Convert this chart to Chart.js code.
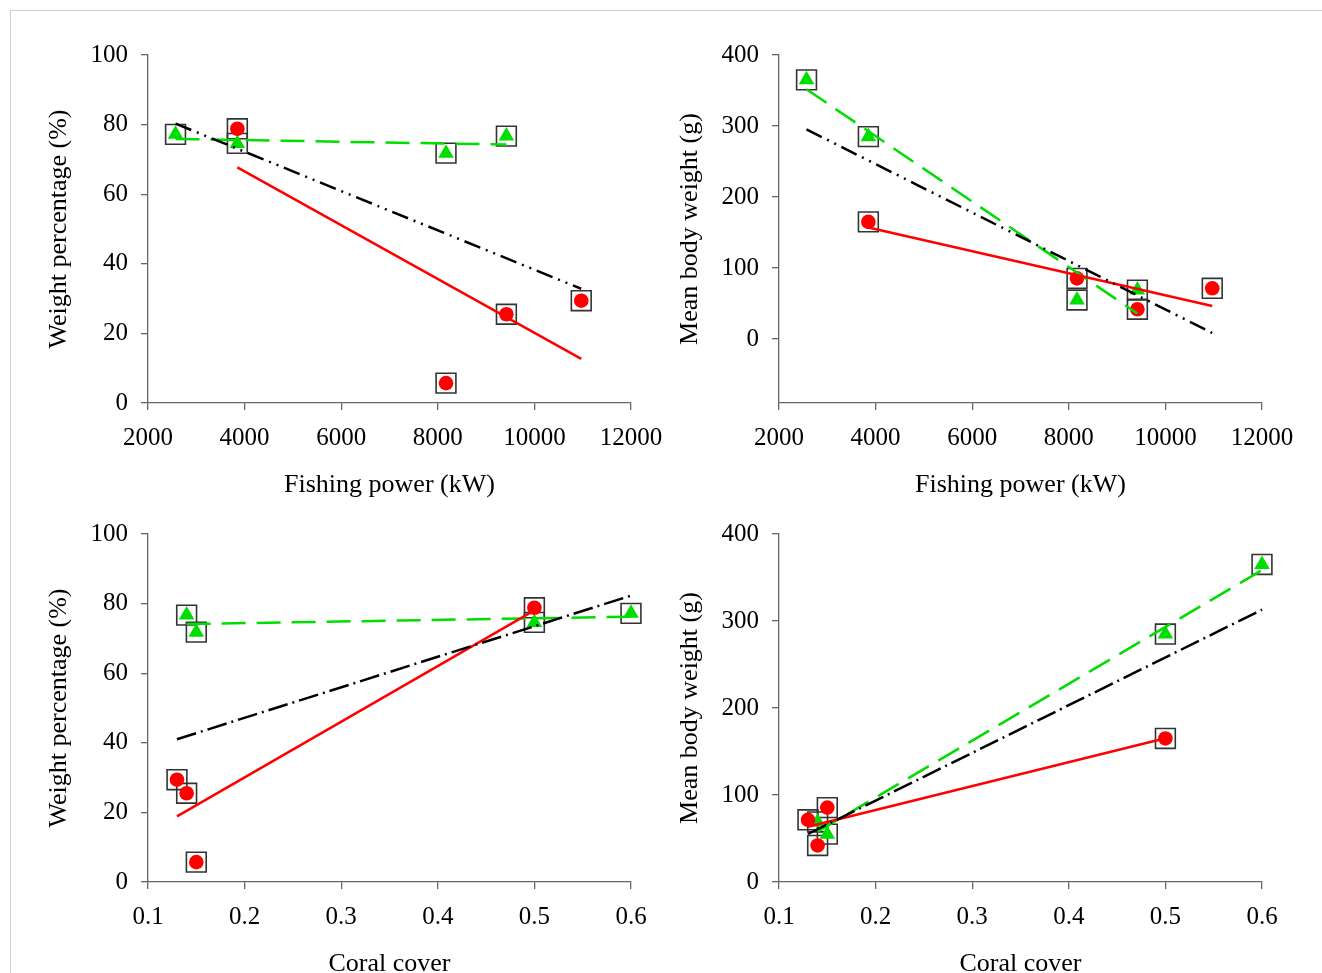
<!DOCTYPE html>
<html lang="en">
<head>
<meta charset="UTF-8">
<title>Weight percentage and mean body weight</title>
<script src="https://cdn.jsdelivr.net/npm/chart.js"></script>
<style>
  html, body { margin: 0; padding: 0; background: #fff; overflow: hidden; }
  #frame { position: absolute; left: 10px; top: 10px; width: 1400px; height: 1100px;
           border-left: 1px solid #d0d0d0; border-top: 1px solid #d0d0d0; }
  canvas { position: absolute; left: 0; top: 0; }
</style>
</head>
<body>
<div id="frame"></div>
<canvas id="c1" width="1322" height="1000"></canvas>
<canvas id="c2" width="1322" height="1000"></canvas>
<canvas id="c3" width="1322" height="1000"></canvas>
<canvas id="c4" width="1322" height="1000"></canvas>

<script>
// sites A..E
const fishingPower = [2570, 3850, 8170, 9420, 10970]
const coralCover = [0.60, 0.50, 0.15, 0.14, 0.13]
// green triangles / red circles (null = no sample)
const greenWeightPct = [77.2, 74.6, 71.8, 76.7, null]
const redWeightPct = [null, 78.8, 5.7, 25.5, 29.4]
const greenBodyWeight = [365, 285, 55, 69, null]
const redBodyWeight = [null, 165, 85.5, 42, 71.5]

const powerTicks = [2000, 4000, 6000, 8000, 10000, 12000]
const coralTicks = [0.1, 0.2, 0.3, 0.4, 0.5, 0.6]
const pctTicks = [0, 20, 40, 60, 80, 100]
const weightTicks = [0, 100, 200, 300, 400]

const FONT = 'Liberation Serif'
const GREEN = '#00dd00'
const RED = '#ff0000'
const AXIS = '#666'

const points = (xs, ys) => xs.map((x, i) => ({x: x, y: ys[i]})).filter(p => p.y !== null)

// least squares trend line between smallest and largest x
const trend = (pts) => {
    const n = pts.length
    const mx = pts.reduce((s, p) => s + p.x, 0) / n
    const my = pts.reduce((s, p) => s + p.y, 0) / n
    let sxy = 0, sxx = 0
    pts.forEach(p => { sxy += (p.x - mx) * (p.y - my); sxx += (p.x - mx) * (p.x - mx) })
    const b = sxy / sxx, a = my - b * mx
    const x0 = Math.min(...pts.map(p => p.x)), x1 = Math.max(...pts.map(p => p.x))
    return [{x: x0, y: a + b * x0}, {x: x1, y: a + b * x1}]
}

const axisBase = (ticks, title, fmt) => ({
    type: 'linear',
    min: ticks[0],
    max: ticks[ticks.length - 1],
    afterBuildTicks: s => { s.ticks = ticks.map(v => ({value: v})) },
    ticks: { color: '#000', font: {family: FONT, size: 25}, callback: fmt },
    grid: { drawOnChartArea: false, drawTicks: true, tickLength: 7, color: AXIS, lineWidth: 1.3 },
    border: { display: true, color: AXIS, width: 1.3 },
    title: { display: true, text: title, color: '#000', font: {family: FONT, size: 26}, padding: 0 }
})

function panel(id, xs, gy, ry, xTicks, yTicks, xTitle, yTitle, xFmt, pad, blackDash, yMin) {
    const g = points(xs, gy), r = points(xs, ry)
    const all = g.concat(r)
    const xAxis = axisBase(xTicks, xTitle, xFmt)
    xAxis.ticks.padding = 13
    xAxis.afterFit = s => { s.height = 98 }
    const yAxis = axisBase(yTicks, yTitle, v => String(v))
    yAxis.ticks.padding = 13
    yAxis.afterFit = s => { s.width = 104 }
    if (yMin !== undefined) yAxis.min = yMin

    new Chart(document.getElementById(id), {
        type: 'scatter',
        data: {
            datasets: [
                { data: trend(all), showLine: true, pointRadius: 0, borderColor: '#000', borderWidth: 2.5,
                  borderDash: blackDash, order: 0, clip: false },
                { data: trend(r), showLine: true, pointRadius: 0, borderColor: RED, borderWidth: 2.5,
                  order: 0, clip: false },
                { data: trend(g), showLine: true, pointRadius: 0, borderColor: GREEN, borderWidth: 2.5,
                  borderDash: [24, 11], order: 0, clip: false },
                { data: r, pointStyle: 'circle', pointRadius: 7.3, backgroundColor: RED, borderWidth: 0,
                  order: 1, clip: false },
                { data: g, pointStyle: 'triangle', pointRadius: 9, backgroundColor: GREEN, borderWidth: 0,
                  order: 1, clip: false },
                { data: all, pointStyle: 'rect', pointRadius: 14, backgroundColor: 'rgba(0,0,0,0)',
                  borderColor: '#333', borderWidth: 1.6, order: 2, clip: false }
            ]
        },
        options: {
            responsive: false,
            animation: false,
            events: [],
            layout: { padding: pad },
            plugins: { legend: {display: false}, tooltip: {enabled: false} },
            scales: { x: xAxis, y: yAxis }
        }
    })
}

const DDOT = [17, 6, 2, 6, 2, 6]
const DDASH = [20, 5, 2, 5]
const powerFmt = v => String(v)
const coralFmt = v => v.toFixed(1)

panel('c1', fishingPower, greenWeightPct, redWeightPct, powerTicks, pctTicks,
      'Fishing power (kW)', 'Weight percentage (%)', powerFmt,
      {left: 44, top: 55, right: 691, bottom: 499}, DDOT)
panel('c2', fishingPower, greenBodyWeight, redBodyWeight, powerTicks, weightTicks,
      'Fishing power (kW)', 'Mean body weight (g)', powerFmt,
      {left: 675, top: 55, right: 60, bottom: 499}, DDOT, -90)
panel('c3', coralCover, greenWeightPct, redWeightPct, coralTicks, pctTicks,
      'Coral cover', 'Weight percentage (%)', coralFmt,
      {left: 44, top: 534, right: 691, bottom: 20}, DDASH)
panel('c4', coralCover, greenBodyWeight, redBodyWeight, coralTicks, weightTicks,
      'Coral cover', 'Mean body weight (g)', coralFmt,
      {left: 675, top: 534, right: 60, bottom: 20}, DDASH)
</script>
</body>
</html>
